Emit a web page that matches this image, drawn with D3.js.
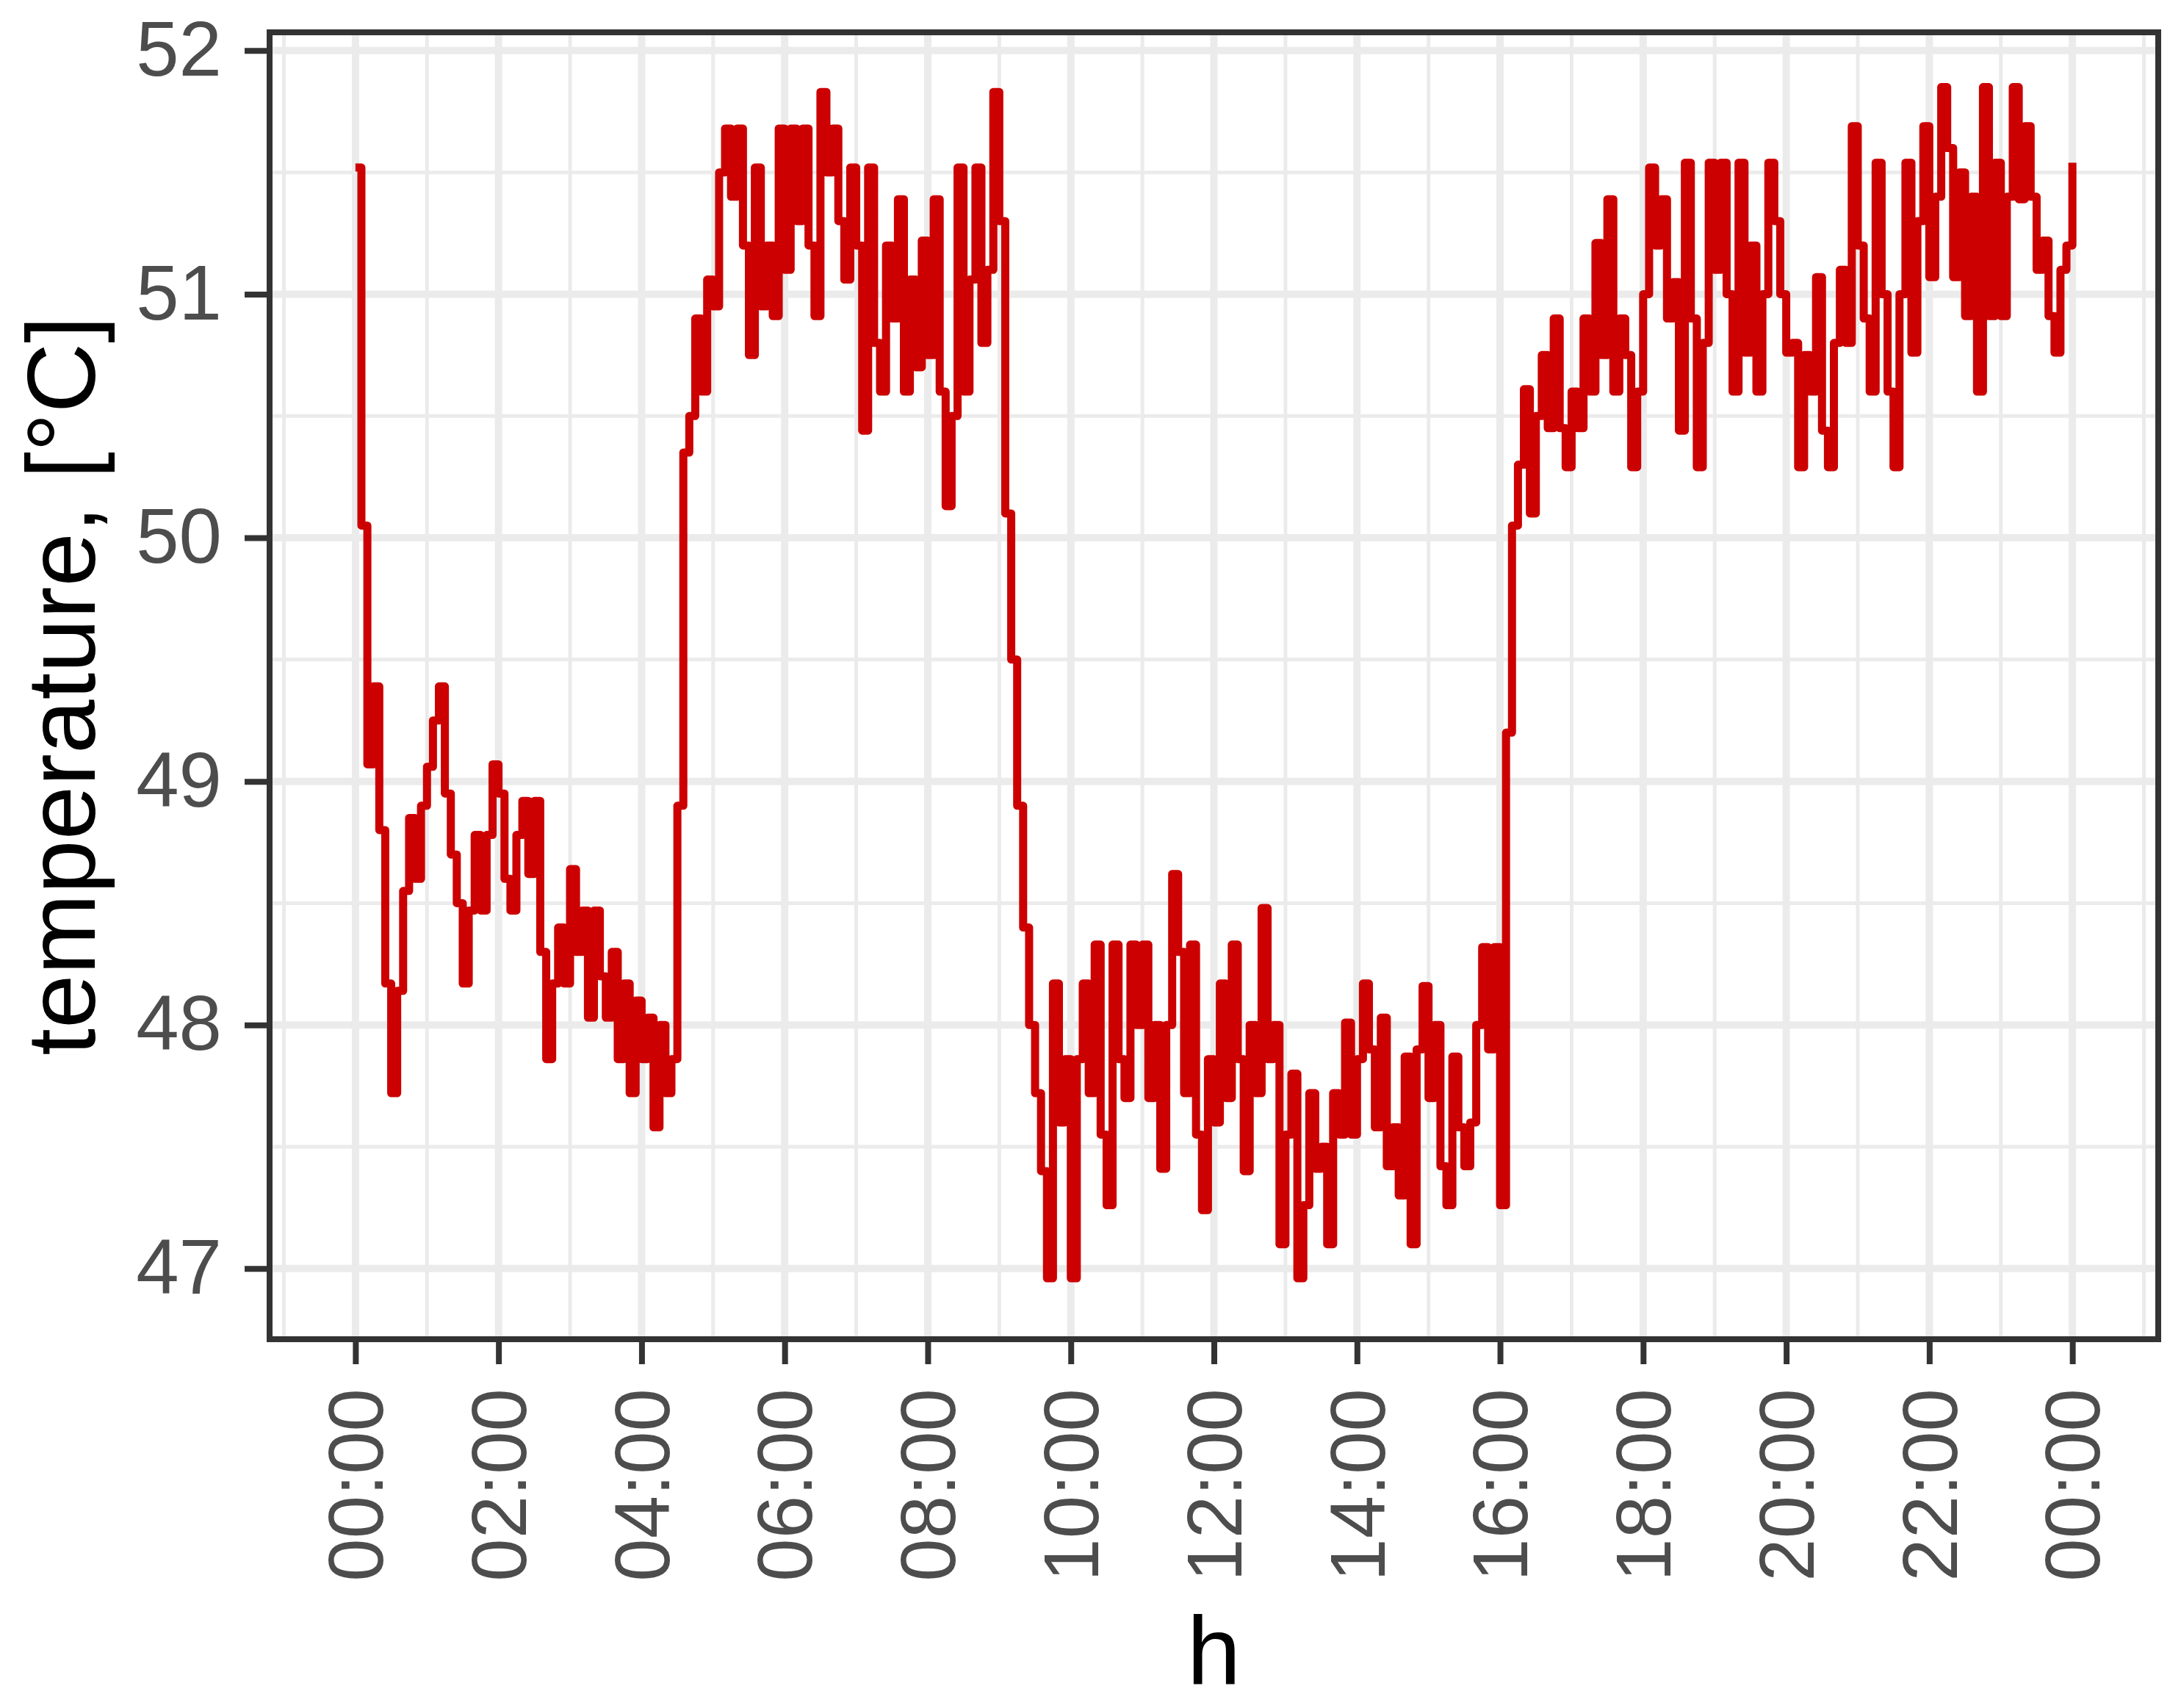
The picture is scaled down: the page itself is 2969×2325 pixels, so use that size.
<!DOCTYPE html>
<html>
<head>
<meta charset="utf-8">
<script src="https://cdn.jsdelivr.net/npm/d3@7"></script>
<style>
  body { margin: 0; background: white; }
  text { font-family: "Liberation Sans", Arial, sans-serif; }
</style>
</head>
<body>
<div id="chart"></div>
<script>
// temperature [°C] every 5 minutes, one row per hour
const temps00to06 = [
  51.52, 50.05, 49.07, 49.39, 48.80, 48.17, 47.72, 48.14, 48.55, 48.85, 48.60, 48.90,
  49.06, 49.25, 49.39, 48.95, 48.70, 48.50, 48.17, 48.47, 48.78, 48.47, 48.78, 49.07,
  48.95, 48.60, 48.47, 48.78, 48.92, 48.62, 48.92, 48.30, 47.86, 48.17, 48.40, 48.17,
  48.64, 48.30, 48.47, 48.03, 48.47, 48.20, 48.03, 48.30, 47.86, 48.17, 47.72, 48.10,
  47.86, 48.03, 47.58, 48.00, 47.72, 47.86, 48.90, 50.35, 50.50, 50.90, 50.60, 51.06,
  50.95, 51.50, 51.68, 51.40, 51.68, 51.20, 50.75, 51.52, 50.95, 51.20, 50.91, 51.68
]
const temps06to12 = [
  51.10, 51.68, 51.30, 51.68, 51.20, 50.91, 51.83, 51.50, 51.68, 51.30, 51.06, 51.52,
  51.20, 50.44, 51.52, 50.80, 50.60, 51.20, 50.90, 51.39, 50.60, 51.06, 50.70, 51.22,
  50.75, 51.39, 50.60, 50.13, 50.50, 51.52, 50.60, 51.06, 51.52, 50.80, 51.10, 51.83,
  51.30, 50.10, 49.50, 48.90, 48.40, 48.00, 47.72, 47.40, 46.96, 48.17, 47.60, 47.86,
  46.96, 47.86, 48.17, 47.72, 48.33, 47.55, 47.26, 48.33, 47.86, 47.70, 48.33, 48.00,
  48.33, 47.70, 48.00, 47.41, 48.00, 48.62, 48.30, 47.72, 48.33, 47.55, 47.24, 47.86
]
const temps12to18 = [
  47.60, 48.17, 47.70, 48.33, 47.86, 47.40, 48.00, 47.72, 48.48, 47.86, 48.00, 47.10,
  47.55, 47.80, 46.96, 47.26, 47.72, 47.41, 47.50, 47.10, 47.72, 47.55, 48.01, 47.55,
  47.86, 48.17, 47.90, 47.58, 48.03, 47.42, 47.58, 47.30, 47.87, 47.10, 47.90, 48.16,
  47.70, 48.00, 47.42, 47.26, 47.87, 47.58, 47.42, 47.60, 48.00, 48.32, 47.90, 48.32,
  47.26, 49.20, 50.05, 50.30, 50.61, 50.10, 50.50, 50.75, 50.45, 50.90, 50.45, 50.29,
  50.60, 50.45, 50.90, 50.60, 51.21, 50.75, 51.39, 50.60, 50.90, 50.75, 50.29, 50.60
]
const temps18to24 = [
  51.00, 51.52, 51.20, 51.39, 50.90, 51.05, 50.44, 51.54, 50.90, 50.29, 50.80, 51.54,
  51.10, 51.54, 51.00, 50.60, 51.54, 50.76, 51.20, 50.60, 51.00, 51.54, 51.30, 51.00,
  50.76, 50.80, 50.29, 50.75, 50.60, 51.07, 50.44, 50.29, 50.80, 51.10, 50.80, 51.69,
  51.20, 50.90, 50.60, 51.54, 51.00, 50.60, 50.29, 51.00, 51.54, 50.76, 51.30, 51.69,
  51.07, 51.40, 51.85, 51.60, 51.07, 51.50, 50.91, 51.40, 50.60, 51.85, 50.91, 51.54,
  50.91, 51.40, 51.85, 51.39, 51.69, 51.40, 51.10, 51.22, 50.91, 50.76, 51.10, 51.20,
  51.54
]
const stepMinutes = 5

const xBreaks = [0, 2, 4, 6, 8, 10, 12, 14, 16, 18, 20, 22, 24]
const xLabels = ["00:00", "02:00", "04:00", "06:00", "08:00", "10:00", "12:00",
                 "14:00", "16:00", "18:00", "20:00", "22:00", "00:00"]
const xMinor = [-1, 1, 3, 5, 7, 9, 11, 13, 15, 17, 19, 21, 23, 25]
const yBreaks = [47, 48, 49, 50, 51, 52]
const yMinor = [47.5, 48.5, 49.5, 50.5, 51.5]

const width = 2969
const height = 2325
const panel = {left: 367, right: 2938, top: 44, bottom: 1823}

const svg = d3.select("#chart").append("svg")
    .attr("width", width)
    .attr("height", height)

svg.append("rect")
    .attr("width", width)
    .attr("height", height)
    .attr("fill", "white")

const x = d3.scaleLinear().domain([-1.2, 25.2]).range([panel.left, panel.right])
const y = d3.scaleLinear().domain([46.71, 52.075]).range([panel.bottom, panel.top])

const temps = [].concat(temps00to06, temps06to12, temps12to18, temps18to24)
const series = temps.map((t, i) => ({h: i * stepMinutes / 60, t: t}))

// grid, minor first then major
const grid = svg.append("g")
grid.selectAll(".x-minor").data(xMinor).join("line")
    .attr("x1", d => x(d)).attr("x2", d => x(d))
    .attr("y1", panel.top).attr("y2", panel.bottom)
    .attr("stroke", "#ebebeb").attr("stroke-width", 5)
grid.selectAll(".y-minor").data(yMinor).join("line")
    .attr("x1", panel.left).attr("x2", panel.right)
    .attr("y1", d => y(d)).attr("y2", d => y(d))
    .attr("stroke", "#ebebeb").attr("stroke-width", 5)
grid.selectAll(".x-major").data(xBreaks).join("line")
    .attr("x1", d => x(d)).attr("x2", d => x(d))
    .attr("y1", panel.top).attr("y2", panel.bottom)
    .attr("stroke", "#ebebeb").attr("stroke-width", 10)
grid.selectAll(".y-major").data(yBreaks).join("line")
    .attr("x1", panel.left).attr("x2", panel.right)
    .attr("y1", d => y(d)).attr("y2", d => y(d))
    .attr("stroke", "#ebebeb").attr("stroke-width", 10)

// the temperature trace
const line = d3.line()
    .x(d => x(d.h))
    .y(d => y(d.t))
    .curve(d3.curveStepAfter)

svg.append("path")
    .datum(series)
    .attr("d", line)
    .attr("fill", "none")
    .attr("stroke", "#cc0000")
    .attr("stroke-width", 11)
    .attr("stroke-linejoin", "round")

// panel border on top
svg.append("rect")
    .attr("x", panel.left)
    .attr("y", panel.top)
    .attr("width", panel.right - panel.left)
    .attr("height", panel.bottom - panel.top)
    .attr("fill", "none")
    .attr("stroke", "#333333")
    .attr("stroke-width", 8)

// axes
const xAxis = svg.append("g")
    .attr("transform", `translate(0,${panel.bottom})`)
    .call(d3.axisBottom(x).tickValues(xBreaks).tickFormat((d, i) => xLabels[i]).tickSize(34))

xAxis.select(".domain").remove()
xAxis.selectAll(".tick line").attr("stroke", "#333333").attr("stroke-width", 8)
xAxis.selectAll(".tick text")
    .attr("transform", "rotate(-90)")
    .attr("x", -67)
    .attr("y", 0)
    .attr("dy", "0.35em")
    .style("text-anchor", "end")
    .style("font-size", "105px")
    .attr("fill", "#4d4d4d")

const yAxis = svg.append("g")
    .attr("transform", `translate(${panel.left},0)`)
    .call(d3.axisLeft(y).tickValues(yBreaks).tickFormat(d3.format("d")).tickSize(34).tickPadding(31))

yAxis.select(".domain").remove()
yAxis.selectAll(".tick line").attr("stroke", "#333333").attr("stroke-width", 8)
yAxis.selectAll(".tick text")
    .style("font-size", "105px")
    .attr("fill", "#4d4d4d")

// titles
svg.append("text")
    .attr("transform", `translate(129,${(panel.top + panel.bottom) / 2}) rotate(-90)`)
    .attr("text-anchor", "middle")
    .style("font-size", "132px")
    .attr("fill", "black")
    .text("temperature, [°C]")

svg.append("text")
    .attr("x", (panel.left + panel.right) / 2)
    .attr("y", 2293)
    .attr("text-anchor", "middle")
    .style("font-size", "132px")
    .attr("fill", "black")
    .text("h")
</script>
</body>
</html>
